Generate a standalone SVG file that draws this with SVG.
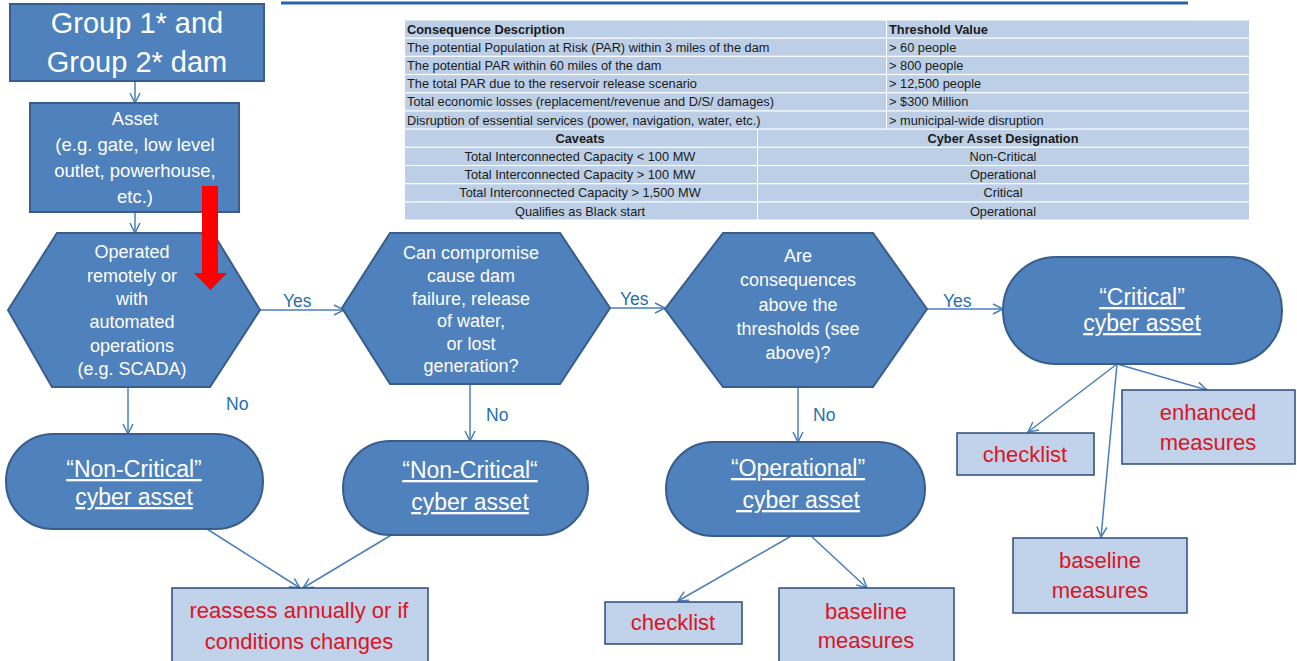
<svg xmlns="http://www.w3.org/2000/svg" width="1297" height="661" viewBox="0 0 1297 661">
<style>
.node{fill:#4f81bd;stroke:#385d8a;stroke-width:2}
.lt{fill:#c0d3ea;stroke:#2c4b78;stroke-width:1.5}
.wt{font-family:"Liberation Sans",Arial,sans-serif;fill:#ffffff;text-anchor:middle}
.rt{font-family:"Liberation Sans",Arial,sans-serif;fill:#dc1424;text-anchor:middle;font-size:22px}
.lbl{font-family:"Liberation Sans",Arial,sans-serif;fill:#1f6fb2;font-size:17.5px}
.tb{font-family:"Liberation Sans",Arial,sans-serif;fill:#1a1a1a;font-size:12.8px}
.tbb{font-weight:bold}
.cell{fill:#bccfe6}
.conn{stroke:#4a7ebb;stroke-width:1.5;fill:none;marker-end:url(#arr)}
.u{text-decoration:underline}
</style>
<defs>
<marker id="arr" markerUnits="userSpaceOnUse" markerWidth="14" markerHeight="14" refX="11" refY="6" orient="auto">
<path d="M1,1 L11,6 L1,11" fill="none" stroke="#4a7ebb" stroke-width="1.5"/>
</marker>
</defs>
<rect width="1297" height="661" fill="#ffffff"/>
<line x1="281" y1="3" x2="1188" y2="3" stroke="#2563ad" stroke-width="3"/>

<g id="table">
<rect x="405" y="20" width="844" height="201" fill="#ffffff"/>
<g class="cell">
<rect x="405" y="20.5" width="481" height="17"/><rect x="887" y="20.5" width="362" height="17"/>
<rect x="405" y="38.7" width="481" height="17"/><rect x="887" y="38.7" width="362" height="17"/>
<rect x="405" y="56.9" width="481" height="17"/><rect x="887" y="56.9" width="362" height="17"/>
<rect x="405" y="75.1" width="481" height="17"/><rect x="887" y="75.1" width="362" height="17"/>
<rect x="405" y="93.3" width="481" height="17"/><rect x="887" y="93.3" width="362" height="17"/>
<rect x="405" y="111.5" width="481" height="17"/><rect x="887" y="111.5" width="362" height="17"/>
<rect x="405" y="129.7" width="352" height="17"/><rect x="758" y="129.7" width="491" height="17"/>
<rect x="405" y="147.9" width="352" height="17"/><rect x="758" y="147.9" width="491" height="17"/>
<rect x="405" y="166.1" width="352" height="17"/><rect x="758" y="166.1" width="491" height="17"/>
<rect x="405" y="184.3" width="352" height="17"/><rect x="758" y="184.3" width="491" height="17"/>
<rect x="405" y="202.5" width="352" height="17"/><rect x="758" y="202.5" width="491" height="17"/>
</g>
<g class="tb">
<text x="407" y="33.5" class="tbb">Consequence Description</text>
<text x="889" y="33.5" class="tbb">Threshold Value</text>
<text x="407" y="51.7">The potential Population at Risk (PAR) within 3 miles of the dam</text>
<text x="889" y="51.7">&gt; 60 people</text>
<text x="407" y="69.9">The potential PAR within 60 miles of the dam</text>
<text x="889" y="69.9">&gt; 800 people</text>
<text x="407" y="88.1">The total PAR due to the reservoir release scenario</text>
<text x="889" y="88.1">&gt; 12,500 people</text>
<text x="407" y="106.3">Total economic losses (replacement/revenue and D/S/ damages)</text>
<text x="889" y="106.3">&gt; $300 Million</text>
<text x="407" y="124.5">Disruption of essential services (power, navigation, water, etc.)</text>
<text x="889" y="124.5">&gt; municipal-wide disruption</text>
<g text-anchor="middle">
<text x="580" y="142.7" class="tbb">Caveats</text>
<text x="1003" y="142.7" class="tbb">Cyber Asset Designation</text>
<text x="580" y="160.9">Total Interconnected Capacity &lt; 100 MW</text>
<text x="1003" y="160.9">Non-Critical</text>
<text x="580" y="179.1">Total Interconnected  Capacity &gt; 100 MW</text>
<text x="1003" y="179.1">Operational</text>
<text x="580" y="197.3">Total Interconnected Capacity &gt; 1,500 MW</text>
<text x="1003" y="197.3">Critical</text>
<text x="580" y="215.5">Qualifies as Black start</text>
<text x="1003" y="215.5">Operational</text>
</g>
</g>
</g>

<g id="connectors">
<line class="conn" x1="135" y1="81" x2="135" y2="103"/>
<line class="conn" x1="135" y1="212" x2="135" y2="233"/>
<line class="conn" x1="260" y1="310" x2="344" y2="310"/>
<line class="conn" x1="128" y1="387" x2="128" y2="434"/>
<line class="conn" x1="610" y1="308" x2="665" y2="308"/>
<line class="conn" x1="470" y1="384" x2="470" y2="441"/>
<line class="conn" x1="927" y1="309" x2="1003" y2="309"/>
<line class="conn" x1="798" y1="387" x2="798" y2="442"/>
<line class="conn" x1="207" y1="529" x2="300" y2="588"/>
<line class="conn" x1="393" y1="534" x2="303" y2="588"/>
<line class="conn" x1="793" y1="535" x2="678" y2="601"/>
<line class="conn" x1="810" y1="535" x2="867" y2="588"/>
<line class="conn" x1="1117" y1="364" x2="1028" y2="432"/>
<line class="conn" x1="1117" y1="364" x2="1101" y2="537"/>
<line class="conn" x1="1117" y1="364" x2="1207" y2="390"/>
<g class="lbl">
<text x="283" y="307">Yes</text>
<text x="620" y="305">Yes</text>
<text x="943" y="307">Yes</text>
<text x="226" y="410">No</text>
<text x="486" y="421">No</text>
<text x="813" y="421">No</text>
</g>
</g>

<g id="group-dam">
<rect class="node" x="10" y="4" width="254" height="77"/>
<text class="wt" x="137" y="33" font-size="29">Group 1* and</text>
<text class="wt" x="137" y="72" font-size="29">Group 2* dam</text>
</g>

<g id="asset">
<rect class="node" x="30" y="103" width="209" height="109"/>
<g class="wt" font-size="18.5">
<text x="135" y="125">Asset</text>
<text x="135" y="151">(e.g. gate, low level</text>
<text x="135" y="177">outlet, powerhouse,</text>
<text x="135" y="203">etc.)</text>
</g>
</g>

<g id="q-remote">
<polygon class="node" points="8,310 57,233 213,233 260,310 210,387 52,387"/>
<g class="wt" font-size="18">
<text x="132" y="258">Operated</text>
<text x="132" y="282">remotely or</text>
<text x="132" y="305">with</text>
<text x="132" y="328">automated</text>
<text x="132" y="352">operations</text>
<text x="132" y="375">(e.g. SCADA)</text>
</g>
</g>

<g id="red-arrow">
<rect x="202" y="186" width="16" height="88" fill="#ff0000"/>
<polygon points="194,273 227,273 210.5,290" fill="#ff0000"/>
</g>

<g id="q-compromise">
<polygon class="node" points="342,308 390,233 560,233 610,308 560,384 390,384"/>
<g class="wt" font-size="18">
<text x="471" y="259">Can compromise</text>
<text x="471" y="282">cause dam</text>
<text x="471" y="305">failure, release</text>
<text x="471" y="327">of water,</text>
<text x="471" y="350">or lost</text>
<text x="471" y="372">generation?</text>
</g>
</g>

<g id="q-thresholds">
<polygon class="node" points="665,309 723,233 873,233 927,309 873,387 723,387"/>
<g class="wt" font-size="18">
<text x="798" y="262">Are</text>
<text x="798" y="286">consequences</text>
<text x="798" y="311">above the</text>
<text x="798" y="335">thresholds (see</text>
<text x="798" y="359">above)?</text>
</g>
</g>

<g id="noncritical-1">
<rect class="node" x="6" y="434" width="257" height="95" rx="47"/>
<text class="wt u" x="134" y="477" font-size="23">“Non-Critical”</text>
<text class="wt u" x="134" y="505" font-size="23">cyber asset</text>
</g>

<g id="noncritical-2">
<rect class="node" x="343" y="441" width="245" height="94" rx="47"/>
<text class="wt u" x="470" y="478" font-size="23">“Non-Critical“</text>
<text class="wt u" x="470" y="510" font-size="23">cyber asset</text>
</g>

<g id="operational">
<rect class="node" x="666" y="442" width="259" height="94" rx="47"/>
<text class="wt u" x="798" y="476" font-size="23">“Operational”</text>
<text class="wt u" x="798" y="508" font-size="23" xml:space="preserve"> cyber asset</text>
</g>

<g id="critical">
<rect class="node" x="1003" y="257" width="279" height="107" rx="53"/>
<text class="wt u" x="1142" y="305" font-size="23">“Critical”</text>
<text class="wt u" x="1142" y="331" font-size="23">cyber asset</text>
</g>

<g id="reassess">
<rect class="lt" x="172" y="588" width="256" height="80"/>
<text class="rt" x="299" y="618">reassess annually or if</text>
<text class="rt" x="299" y="649">conditions changes</text>
</g>

<g id="op-checklist">
<rect class="lt" x="605" y="602" width="137" height="42"/>
<text class="rt" x="673" y="630">checklist</text>
</g>

<g id="op-baseline">
<rect class="lt" x="779" y="588" width="175" height="80"/>
<text class="rt" x="866" y="619">baseline</text>
<text class="rt" x="866" y="648">measures</text>
</g>

<g id="crit-checklist">
<rect class="lt" x="957" y="433" width="137" height="42"/>
<text class="rt" x="1025" y="462">checklist</text>
</g>

<g id="crit-enhanced">
<rect class="lt" x="1122" y="390" width="173" height="74"/>
<text class="rt" x="1208" y="420">enhanced</text>
<text class="rt" x="1208" y="450">measures</text>
</g>

<g id="crit-baseline">
<rect class="lt" x="1013" y="538" width="174" height="75"/>
<text class="rt" x="1100" y="568">baseline</text>
<text class="rt" x="1100" y="598">measures</text>
</g>
</svg>
